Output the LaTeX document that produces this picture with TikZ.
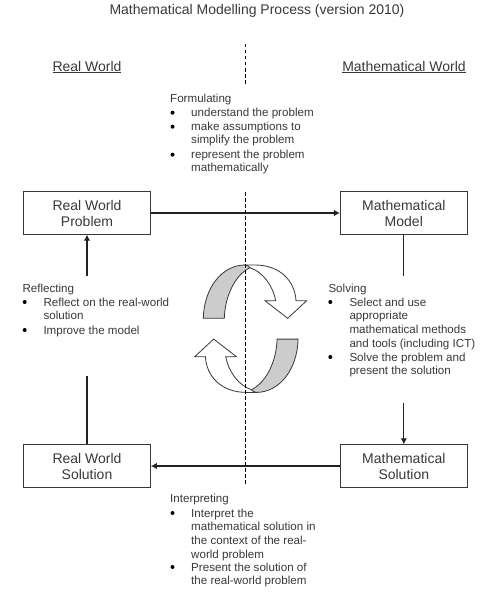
\documentclass[tikz,border=0pt]{standalone}
\usepackage{fontspec}
\setmainfont{Liberation Sans}
\usetikzlibrary{arrows.meta}
\definecolor{ink}{gray}{0.22}
\tikzset{
  x=1pt,y=-1pt,
  boxn/.style={draw=ink,line width=1.1pt,minimum width=126.6pt,minimum height=42.3pt,inner sep=0pt,align=center,text=ink,font=\fontsize{14}{16}\selectfont},
  headn/.style={text=ink,inner sep=0pt,font=\fontsize{14}{16}\selectfont},
  conn/.style={draw=ink!60!black,line width=1.15pt},
  tipc/.style={-{Latex[length=6pt,width=6.5pt]}},
  divl/.style={draw=black,line width=0.8pt,dash pattern=on 3.5pt off 2.5pt},
  notel/.style={text=ink,anchor=north west,inner sep=0pt,align=left,font=\fontsize{11.6}{13.7}\selectfont},
  bulletn/.style={circle,fill=black,inner sep=0pt,minimum size=4pt},
  arrowl/.style={draw=ink,line width=0.8pt},
}
\begin{document}
\begin{tikzpicture}
\useasboundingbox (0,0) rectangle (488,602);
\node[headn] (title) at (257,10.5) {Mathematical Modelling Process (version 2010)};
\node[headn] (rw) at (87,67) {\underline{Real World}};
\node[headn] (mw) at (404,67) {\underline{Mathematical World}};
\node[boxn] (rwp) at (87,213) {Real World\\Problem};
\node[boxn] (mm) at (403.8,213) {Mathematical\\Model};
\node[boxn] (rws) at (87,466) {Real World\\Solution};
\node[boxn] (ms) at (403.8,466) {Mathematical\\Solution};
\draw[conn,tipc] (rwp.east) -- (mm.west);
\draw[conn,tipc] (ms.west) -- (rws.east);
\coordinate (a1) at (87,376); \coordinate (a2) at (87,275.7);
\coordinate (a4) at (403.8,275.7); \coordinate (a5) at (403.8,403);
\draw[conn] (rws.north) -- (a1);
\draw[conn,tipc] (a2) -- (rwp.south);
\draw[conn] (mm.south) -- (a4);
\draw[conn,tipc] (a5) -- (ms.north);
\node[notel] (f) at (170,93.5) {Formulating};
\node[notel] (f1) at (191,107.5) {understand the problem};
\node[notel] (f2) at (191,121.5) {make assumptions to\\simplify the problem};
\node[notel] (f3) at (191,149.5) {represent the problem\\mathematically};
\node[notel] (r) at (22.3,283.5) {Reflecting};
\node[notel] (r1) at (43.3,297.5) {Reflect on the real-world\\solution};
\node[notel] (r2) at (43.3,325.5) {Improve the model};
\node[notel] (s) at (328.3,283.5) {Solving};
\node[notel] (s1) at (349.3,297.5) {Select and use\\appropriate\\mathematical methods\\and tools (including ICT)};
\node[notel] (s2) at (349.3,352.5) {Solve the problem and\\present the solution};
\node[notel] (i) at (170,493.5) {Interpreting};
\node[notel] (i1) at (191,508.5) {Interpret the\\mathematical solution in\\the context of the real-\\world problem};
\node[notel] (i2) at (191,562.5) {Present the solution of\\the real-world problem};
\foreach \x/\y in {172.5/112.7,172.5/126.7,172.5/154.7,24.7/302,24.7/330,330.3/302,330.3/357,172.5/513,172.5/567}{
  \node[bulletn] at (\x,\y) {};
}
\foreach \ang in {0,180}{
\begin{scope}[rotate around={\ang:(250.7,328.7)}]
\draw[arrowl,fill=white] (245,265) -- (255,265) .. controls (280,265) and (295,281) .. (296,300.7) -- (306.7,300.7) -- (287.7,318.3) -- (265,300.7) -- (275.7,300.7) .. controls (273,286) and (263,272) .. (250,267.7) -- cycle;
\draw[arrowl,fill=black!20] (203.3,318.3) .. controls (204,288) and (222,265) .. (245,265) .. controls (247,265) and (249,266.5) .. (250,267.7) .. controls (235,275) and (225,296) .. (224.3,318.3) -- cycle;
\end{scope}
}
\coordinate (d1) at (245.5,44); \coordinate (d2) at (245.5,84);
\coordinate (d3) at (245.5,192); \coordinate (d4) at (245.5,484);
\draw[divl] (d1)--(d2);
\draw[divl] (d3)--(d4);
\end{tikzpicture}
\end{document}
